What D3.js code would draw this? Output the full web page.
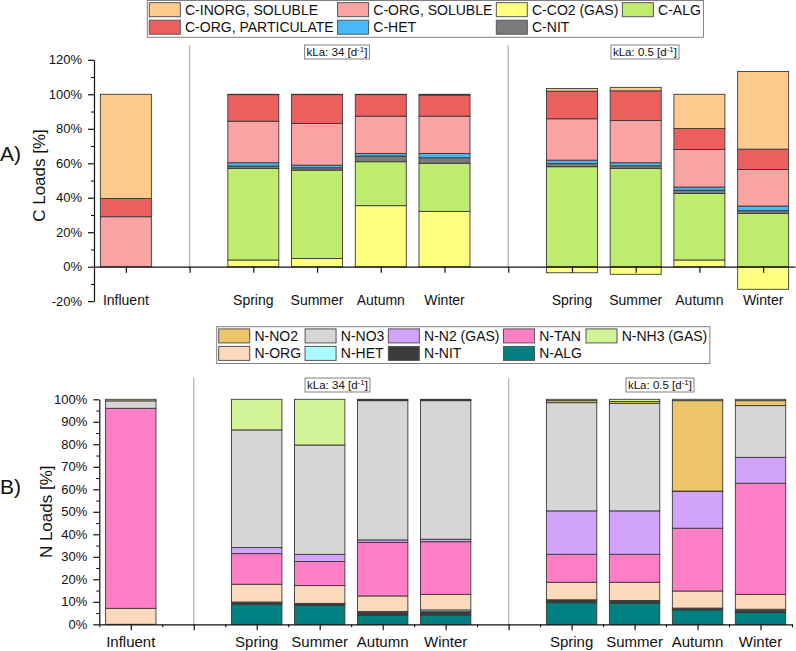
<!DOCTYPE html>
<html>
<head>
<meta charset="utf-8">
<script src="https://cdn.jsdelivr.net/npm/d3@7"></script>
<style>
  body { margin: 0; background: #fff; }
  text { font-family: "Liberation Sans", Arial, sans-serif; fill: #111; }
</style>
</head>
<body>
<svg id="chart" width="796" height="651"></svg>
<script>
// categories: one bar per season, slots 1 and 6 are the gaps with separator lines
const seasons = ['Influent', 'Spring', 'Summer', 'Autumn', 'Winter', 'Spring', 'Summer', 'Autumn', 'Winter'];
const barSlots = [0, 2, 3, 4, 5, 7, 8, 9, 10];
const sepSlots = [1, 6];
const klaLabels = ['34', '0.5'];

// carbon loads [%], stacked bottom -> top
const cKeys = ['C-CO2 (GAS)', 'C-ALG', 'C-NIT', 'C-HET', 'C-ORG, SOLUBLE', 'C-ORG, PARTICULATE', 'C-INORG, SOLUBLE'];
const cCO2 = [0, 3.9, 4.8, 35.4, 32.1, -3.5, -4.4, 3.9, -13.1];
const cALG = [0, 53.1, 51.2, 25.5, 27.9, 58.0, 57.0, 38.6, 30.9];
const cNIT = [0, 1.4, 1.4, 3.3, 3.2, 1.9, 1.5, 1.9, 1.6];
const cHET = [0, 1.9, 1.5, 1.5, 2.5, 1.9, 1.8, 1.8, 2.7];
const cOrgSol = [29.0, 24.1, 24.2, 21.6, 21.6, 24.0, 24.5, 21.8, 21.2];
const cOrgPart = [10.6, 15.4, 16.7, 12.5, 12.2, 16.0, 17.2, 12.2, 11.8];
const cInorg = [60.4, 0.2, 0.2, 0.2, 0.5, 1.6, 2.0, 19.8, 45.0];

// nitrogen loads [%], stacked bottom -> top
const nKeys = ['N-ALG', 'N-NIT', 'N-HET', 'N-ORG', 'N-TAN', 'N-N2 (GAS)', 'N-NO3', 'N-NO2', 'N-NH3 (GAS)'];
const nALG = [0, 8.9, 8.4, 4.0, 4.1, 9.6, 9.3, 6.4, 5.2];
const nNIT = [0, 0.9, 0.8, 1.3, 1.5, 1.2, 1.2, 0.7, 0.9];
const nHET = [0, 0.1, 0.1, 0.4, 0.8, 0.1, 0.1, 0.1, 0.6];
const nORG = [7.1, 7.9, 7.9, 6.9, 6.9, 7.8, 8.1, 7.6, 6.6];
const nTAN = [88.9, 13.6, 10.7, 23.8, 23.4, 12.4, 12.4, 27.9, 49.4];
const nN2 = [0, 2.7, 3.2, 1.1, 1.1, 19.3, 19.3, 16.3, 11.5];
const nNO3 = [3.3, 52.3, 48.6, 61.9, 61.6, 48.1, 47.8, 0.2, 23.0];
const nNO2 = [0.7, 0, 0, 0.4, 0.4, 0.9, 0.8, 40.2, 2.2];
const nNH3 = [0, 13.6, 20.3, 0.2, 0.2, 0.6, 1.0, 0.6, 0.6];

const cColors = {
  'C-INORG, SOLUBLE': '#fdcb8b',
  'C-ORG, SOLUBLE': '#f9a3a3',
  'C-CO2 (GAS)': '#ffff80',
  'C-ALG': '#bfeb6f',
  'C-ORG, PARTICULATE': '#ec5f5f',
  'C-HET': '#48b9f7',
  'C-NIT': '#7b7b7b',
};
const nColors = {
  'N-NO2': '#ecc56b',
  'N-NO3': '#d6d6d6',
  'N-N2 (GAS)': '#d1a3fb',
  'N-TAN': '#ff7fc6',
  'N-NH3 (GAS)': '#d2f396',
  'N-ORG': '#fbd9bb',
  'N-HET': '#aafbff',
  'N-NIT': '#3b3b3b',
  'N-ALG': '#008080',
};
const cLegendRows = [
  ['C-INORG, SOLUBLE', 'C-ORG, SOLUBLE', 'C-CO2 (GAS)', 'C-ALG'],
  ['C-ORG, PARTICULATE', 'C-HET', 'C-NIT', null],
];
const nLegendRows = [
  ['N-NO2', 'N-NO3', 'N-N2 (GAS)', 'N-TAN', 'N-NH3 (GAS)'],
  ['N-ORG', 'N-HET', 'N-NIT', 'N-ALG', null],
];

function buildRows(keys, arrays) {
  return seasons.map((s, i) => {
    const row = { slot: barSlots[i], name: s };
    keys.forEach((k, j) => (row[k] = arrays[j][i]));
    return row;
  });
}

const svg = d3.select('#chart');

drawPanel({
  keys: cKeys,
  colors: cColors,
  rows: buildRows(cKeys, [cCO2, cALG, cNIT, cHET, cOrgSol, cOrgPart, cInorg]),
  xRange: [94, 795],
  yDomain: [-20, 120],
  yRange: [301.2, 59.8],
  major: 20,
  minor: 10,
  xMinor: false,
  labelY: 305,
  labelSize: 14,
  sepTop: 45,
  klaX: [337, 645],
  klaY: 52,
  letter: 'A)',
  letterY: 161,
  yTitle: 'C Loads [%]',
  yTitleX: 45,
  legendRows: cLegendRows,
  legendLeft: 147.3,
  legendTop: 0.5,
});

drawPanel({
  keys: nKeys,
  colors: nColors,
  rows: buildRows(nKeys, [nALG, nNIT, nHET, nORG, nTAN, nN2, nNO3, nNO2, nNH3]),
  xRange: [99.3, 792],
  yDomain: [0, 100],
  yRange: [624.3, 399.3],
  major: 10,
  minor: 5,
  xMinor: true,
  labelY: 647,
  labelSize: 15,
  sepTop: 378,
  klaX: [337.5, 660],
  klaY: 385,
  letter: 'B)',
  letterY: 494,
  yTitle: 'N Loads [%]',
  yTitleX: 52,
  legendRows: nLegendRows,
  legendLeft: 216.7,
  legendTop: 326.7,
});

function drawPanel(cfg) {
  const g = svg.append('g');
  const x = d3.scaleLinear().domain([-0.5, 10.5]).range(cfg.xRange);
  const y = d3.scaleLinear().domain(cfg.yDomain).range(cfg.yRange);
  const bw = (x(1) - x(0)) * 0.8;

  // separators between influent / kLa 34 / kLa 0.5
  g.selectAll('line.sep')
    .data(sepSlots)
    .join('line')
    .attr('x1', (d) => x(d))
    .attr('x2', (d) => x(d))
    .attr('y1', cfg.sepTop)
    .attr('y2', y(0))
    .attr('stroke', '#bdbdbd')
    .attr('stroke-width', 1.5);

  const series = d3
    .stack()
    .keys(cfg.keys)
    .offset(d3.stackOffsetDiverging)(cfg.rows);

  g.append('g')
    .selectAll('g')
    .data(series)
    .join('g')
    .attr('fill', (d) => cfg.colors[d.key])
    .selectAll('rect')
    .data((d) => d.filter((v) => v[1] !== v[0]))
    .join('rect')
    .attr('x', (d) => x(d.data.slot) - bw / 2)
    .attr('y', (d) => y(Math.max(d[0], d[1])))
    .attr('width', bw)
    .attr('height', (d) => Math.abs(y(d[0]) - y(d[1])))
    .attr('stroke', '#3a3a3a')
    .attr('stroke-width', 0.9);

  // y axis with minor ticks
  const [y0, y1] = cfg.yDomain;
  const minorVals = d3.range(y0, y1 + 0.01, cfg.minor).filter((v) => v % cfg.major !== 0);
  g.append('g')
    .attr('transform', `translate(${cfg.xRange[0]},0)`)
    .call(d3.axisLeft(y).tickValues(minorVals).tickSize(3).tickFormat(''))
    .call((a) => a.select('.domain').remove());
  g.append('g')
    .attr('transform', `translate(${cfg.xRange[0]},0)`)
    .call(
      d3
        .axisLeft(y)
        .tickValues(d3.range(y0, y1 + 0.01, cfg.major))
        .tickSize(6)
        .tickSizeOuter(0)
        .tickPadding(6)
        .tickFormat((d) => d + '%')
    )
    .call((a) => a.selectAll('text').style('font-size', '13px').style('font-family', null))
    .call((a) => a.selectAll('line,path').attr('stroke', '#111').attr('stroke-width', 1.2));

  // x axis at 0%
  const xAxis = g.append('g').attr('transform', `translate(0,${y(0)})`);
  if (cfg.xMinor) {
    xAxis
      .append('g')
      .call(d3.axisBottom(x).tickValues(d3.range(-0.5, 10.6, 1)).tickSize(3).tickFormat(''))
      .call((a) => a.select('.domain').remove());
  }
  xAxis
    .append('g')
    .call(d3.axisBottom(x).tickValues(d3.range(0, 11)).tickSize(6).tickSizeOuter(0).tickFormat(''))
    .call((a) => a.selectAll('line,path').attr('stroke', '#111').attr('stroke-width', 1.2));

  // category labels
  g.selectAll('text.cat')
    .data(cfg.rows)
    .join('text')
    .attr('class', 'cat')
    .attr('x', (d) => x(d.slot))
    .attr('y', cfg.labelY)
    .attr('text-anchor', 'middle')
    .style('font-size', cfg.labelSize + 'px')
    .text((d) => d.name);

  // kLa tags
  cfg.klaX.forEach((cx, i) => {
    const tag = g.append('g');
    const t = tag
      .append('text')
      .attr('x', cx)
      .attr('y', cfg.klaY + 4)
      .attr('text-anchor', 'middle')
      .style('font-size', '11.5px');
    t.append('tspan').text(`kLa: ${klaLabels[i]} [d`);
    t.append('tspan').attr('dy', -4).style('font-size', '8px').text('-1');
    t.append('tspan').attr('dy', 4).text(']');
    const bb = t.node().getBBox();
    tag
      .insert('rect', 'text')
      .attr('x', bb.x - 2)
      .attr('y', cfg.klaY - 7)
      .attr('width', bb.width + 4)
      .attr('height', 14)
      .attr('fill', '#fff')
      .attr('stroke', '#808080');
  });

  // panel letter and y title
  g.append('text')
    .attr('x', 0)
    .attr('y', cfg.letterY)
    .style('font-size', '21px')
    .text(cfg.letter);
  g.append('text')
    .attr('transform', `translate(${cfg.yTitleX},${(y(cfg.yDomain[0]) + y(cfg.yDomain[1])) / 2 + (cfg.yDomain[0] < 0 ? -5 : 0)}) rotate(-90)`)
    .attr('text-anchor', 'middle')
    .style('font-size', '17px')
    .text(cfg.yTitle);

  drawLegend(g, cfg.legendRows, cfg.colors, cfg.legendLeft, cfg.legendTop);
}

function drawLegend(g, rows, colors, left, top) {
  const lg = g.append('g');
  const box = lg.append('rect').attr('fill', '#fff').attr('stroke', '#808080');
  const nCols = rows[0].length;
  const rowH = 17.5;
  // measure text widths per column
  const measure = lg.append('text').style('font-size', '14px');
  const colW = d3.range(nCols).map((c) =>
    d3.max(rows, (r) => {
      if (!r[c]) return 0;
      measure.text(r[c]);
      return measure.node().getComputedTextLength();
    })
  );
  measure.remove();
  let cx = left + 2;
  const colX = colW.map((w) => {
    const v = cx;
    cx += 35.7 + w + 4;
    return v;
  });
  rows.forEach((r, ri) => {
    r.forEach((name, c) => {
      if (!name) return;
      const sy = top + 2.2 + ri * rowH;
      lg.append('rect')
        .attr('x', colX[c])
        .attr('y', sy)
        .attr('width', 31)
        .attr('height', 14)
        .attr('fill', colors[name])
        .attr('stroke', '#555');
      lg.append('text')
        .attr('x', colX[c] + 35.7)
        .attr('y', sy + 12)
        .style('font-size', '14px')
        .text(name);
    });
  });
  const right = colX[nCols - 1] + 35.7 + colW[nCols - 1] + 2.6;
  box
    .attr('x', left)
    .attr('y', top)
    .attr('width', right - left)
    .attr('height', rowH * 2 + 1.8);
}
</script>
</body>
</html>
